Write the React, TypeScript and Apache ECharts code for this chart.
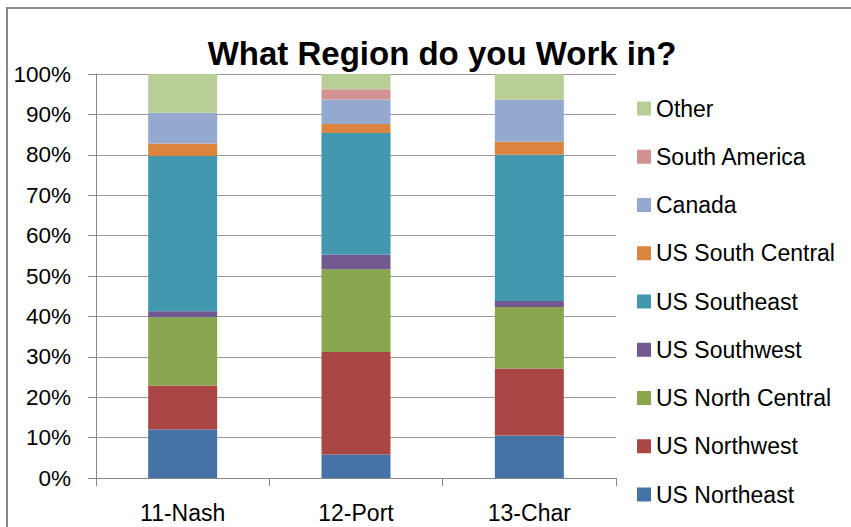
import React, { useEffect, useRef } from "react";
import * as echarts from "echarts";

const categories = ["11-Nash", "12-Port", "13-Char"];
const seriesNames = [
  "US Northeast",
  "US Northwest",
  "US North Central",
  "US Southwest",
  "US Southeast",
  "US South Central",
  "Canada",
  "South America",
  "Other",
];
const usNortheast = [12.0, 5.8, 10.5];
const usNorthwest = [10.9, 25.4, 16.6];
const usNorthCentral = [16.9, 20.5, 15.2];
const usSouthwest = [1.5, 3.6, 1.5];
const usSoutheast = [38.4, 30.1, 36.2];
const usSouthCentral = [3.1, 2.2, 3.2];
const canada = [7.6, 6.1, 10.5];
const southAmerica = [0, 2.5, 0];
const other = [9.6, 3.8, 6.3];
const yTicks = [0, 10, 20, 30, 40, 50, 60, 70, 80, 90, 100];
const colors = [
  "#4572A7",
  "#AA4643",
  "#89A54E",
  "#71588F",
  "#4198AF",
  "#DB843D",
  "#93A9CF",
  "#D19392",
  "#B9CD96",
];

const FONT = "'Liberation Sans', Arial, sans-serif";

export default function App() {
  const ref = useRef<HTMLDivElement>(null);
  useEffect(() => {
    if (!ref.current) return;
    const chart = echarts.init(ref.current, null, { renderer: "svg" });
    const values = [
      usNortheast,
      usNorthwest,
      usNorthCentral,
      usSouthwest,
      usSoutheast,
      usSouthCentral,
      canada,
      southAmerica,
      other,
    ];
    chart.setOption({
      animation: false,
      backgroundColor: "#ffffff",
      color: colors,
      title: {
        text: "What Region do you Work in?",
        left: 437,
        textAlign: "center",
        top: 32,
        textStyle: {
          fontFamily: FONT,
          fontSize: 33,
          fontWeight: "bold",
          color: "#000",
          lineHeight: 33,
        },
      },
      graphic: [
        {
          type: "rect",
          shape: { x: 7, y: 8, width: 900, height: 600 },
          style: { fill: "none", stroke: "#888", lineWidth: 2 },
          silent: true,
        },
      ],
      legend: {
        orient: "vertical",
        left: 632,
        top: 92,
        itemWidth: 14,
        itemHeight: 14,
        itemGap: 25.25,
        icon: "rect",
        data: seriesNames.slice().reverse(),
        textStyle: {
          fontFamily: FONT,
          fontSize: 23,
          lineHeight: 23,
          color: "#000",
        },
      },
      grid: { left: 96, right: 235, top: 74, bottom: 49, containLabel: false },
      xAxis: {
        type: "category",
        data: categories,
        axisLine: { lineStyle: { color: "#888", width: 1 } },
        axisTick: {
          show: true,
          length: 8,
          alignWithLabel: false,
          lineStyle: { color: "#888" },
        },
        axisLabel: {
          fontFamily: FONT,
          fontSize: 23,
          color: "#000",
          margin: 23,
        },
      },
      yAxis: {
        type: "value",
        min: yTicks[0],
        max: yTicks[yTicks.length - 1],
        interval: 10,
        axisLine: { show: true, lineStyle: { color: "#888", width: 1 } },
        axisTick: { show: true, length: 8, lineStyle: { color: "#888" } },
        splitLine: { show: true, lineStyle: { color: "#999", width: 1 } },
        axisLabel: {
          fontFamily: FONT,
          fontSize: 22.5,
          color: "#000",
          margin: 25,
          formatter: "{value}%",
        },
      },
      series: seriesNames.map((name, i) => ({
        name,
        type: "bar",
        stack: "total",
        barWidth: 69,
        data: values[i],
        itemStyle: { color: colors[i] },
      })),
    });
    return () => chart.dispose();
  }, []);
  return (
    <div
      ref={ref}
      style={{ position: "fixed", left: 0, top: 0, width: 851, height: 527 }}
    />
  );
}
